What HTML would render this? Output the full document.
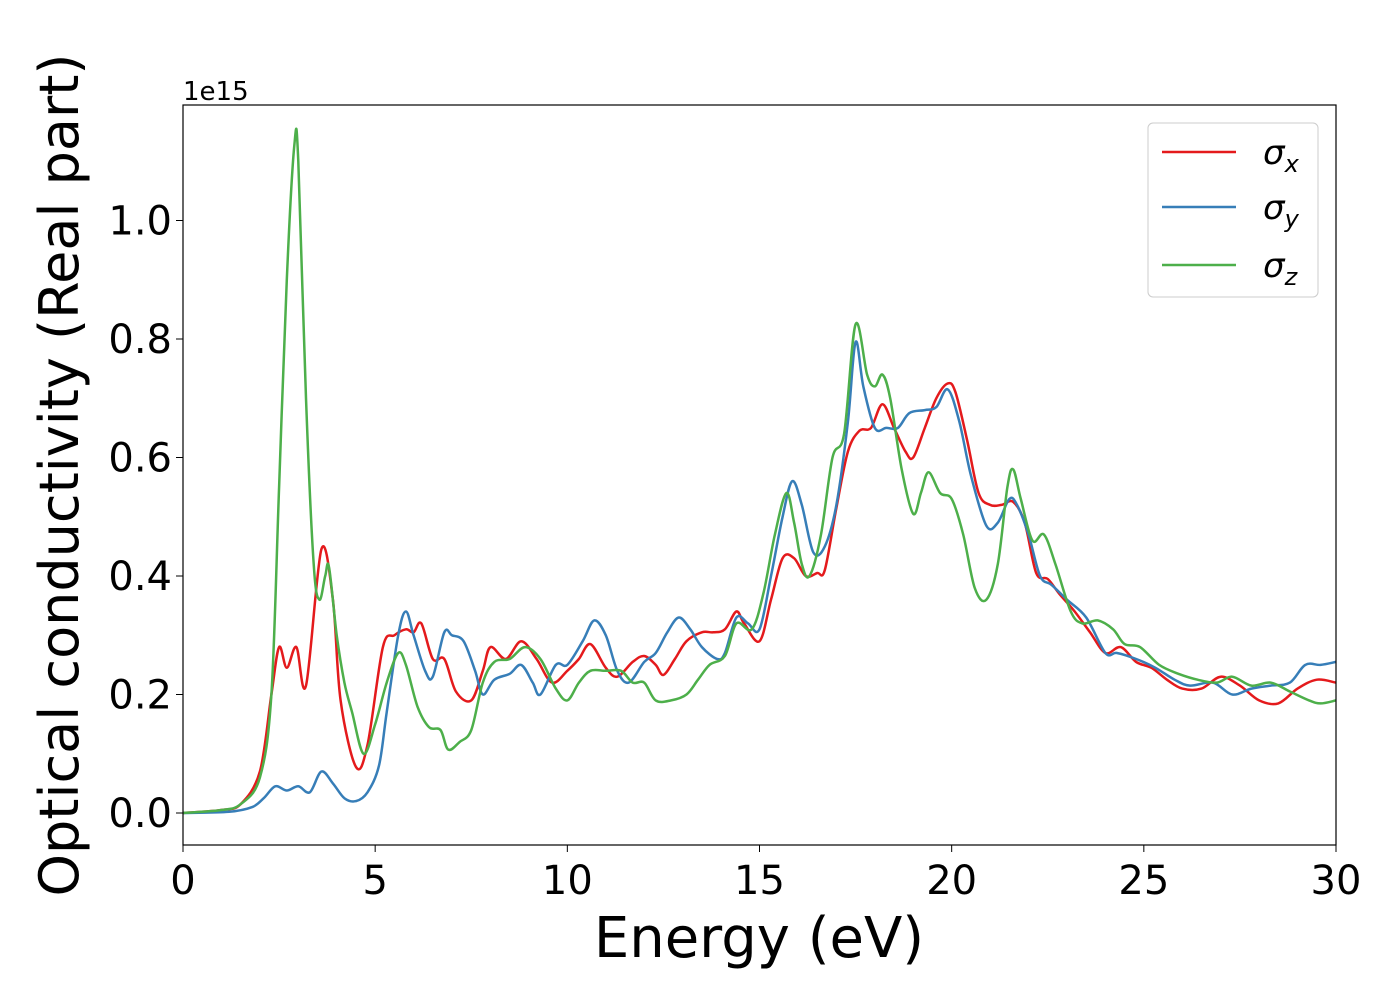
<!DOCTYPE html>
<html><head><meta charset="utf-8"><style>
body{margin:0;background:#fff}
text{font-family:"DejaVu Sans","Liberation Sans",sans-serif}
</style></head><body>
<svg id="chart" width="1400" height="1000" xmlns="http://www.w3.org/2000/svg">
<rect width="1400" height="1000" fill="#fff"/>
<g id="series"></g>
<rect x="183" y="105" width="1153" height="740" fill="none" stroke="#000" stroke-width="1.2"/>
<g id="ticks"></g>
<text x="183" y="100" font-size="26">1e15</text>
<text x="759" y="957" font-size="56" text-anchor="middle">Energy (eV)</text>
<text transform="translate(78,475) rotate(-90)" font-size="54" text-anchor="middle">Optical conductivity (Real part)</text>
<g>
<rect x="1148" y="123" width="170" height="174" rx="5" fill="#fff" stroke="#ccc" stroke-width="1"/>
<line x1="1162" y1="152" x2="1236" y2="152" stroke="#e41a1c" stroke-width="2.5"/>
<text x="1263" y="164" font-size="34" font-style="italic">σ<tspan font-size="24" dy="8">x</tspan></text>
<line x1="1162" y1="207" x2="1236" y2="207" stroke="#377eb8" stroke-width="2.5"/>
<text x="1263" y="219" font-size="34" font-style="italic">σ<tspan font-size="24" dy="8">y</tspan></text>
<line x1="1162" y1="265" x2="1236" y2="265" stroke="#4daf4a" stroke-width="2.5"/>
<text x="1263" y="277" font-size="34" font-style="italic">σ<tspan font-size="24" dy="8">z</tspan></text>
</g>
</svg>
<script>
const xTicks=[0,5,10,15,20,25,30];
const yTicks=[0.0,0.2,0.4,0.6,0.8,1.0];
const yTickLabels=["0.0","0.2","0.4","0.6","0.8","1.0"];
const exE=[0,1,1.5,2,2.3,2.5,2.7,2.95,3.2,3.6,3.9,4.1,4.5,4.8,5.2,5.5,5.8,6,6.2,6.5,6.8,7.1,7.5,7.8,8,8.4,8.8,9.2,9.6,10,10.3,10.6,11,11.3,11.7,12,12.3,12.5,12.8,13.1,13.5,13.8,14.1,14.4,14.6,15,15.3,15.6,15.9,16.2,16.5,16.7,17,17.3,17.6,17.9,18.2,18.5,18.8,19,19.3,19.6,19.9,20.1,20.4,20.7,21,21.3,21.6,21.9,22.2,22.5,22.8,23.2,23.6,24,24.4,24.8,25.2,25.6,26,26.5,27,27.5,28,28.5,29,29.5,30];
const sigmaX=[0,0.005,0.015,0.07,0.2,0.28,0.245,0.28,0.215,0.445,0.36,0.19,0.078,0.115,0.28,0.3,0.31,0.305,0.32,0.26,0.26,0.205,0.19,0.24,0.28,0.26,0.29,0.26,0.22,0.24,0.26,0.285,0.245,0.23,0.255,0.265,0.25,0.233,0.26,0.29,0.305,0.305,0.31,0.34,0.32,0.29,0.36,0.43,0.43,0.4,0.405,0.41,0.515,0.61,0.645,0.65,0.69,0.65,0.61,0.6,0.65,0.7,0.725,0.71,0.63,0.54,0.52,0.52,0.525,0.49,0.405,0.395,0.37,0.34,0.305,0.27,0.28,0.255,0.245,0.225,0.21,0.21,0.23,0.215,0.19,0.185,0.21,0.225,0.22];
const eyE=[0,1.2,1.8,2.1,2.4,2.7,3,3.3,3.6,3.9,4.2,4.5,4.8,5.1,5.3,5.6,5.8,6,6.3,6.5,6.8,7,7.3,7.6,7.8,8.1,8.5,8.8,9.1,9.3,9.7,10,10.4,10.7,11,11.3,11.6,12,12.3,12.6,12.9,13.2,13.5,13.9,14.1,14.4,14.7,15,15.3,15.6,15.85,16.1,16.4,16.7,17,17.3,17.5,17.7,18,18.3,18.6,18.9,19.3,19.6,19.9,20.2,20.5,20.9,21.2,21.5,21.7,22,22.3,22.6,23,23.5,24,24.3,24.8,25.3,25.8,26.2,26.8,27.3,27.8,28.3,28.8,29.2,29.6,30];
const sigmaY=[0,0.002,0.01,0.025,0.045,0.038,0.045,0.035,0.07,0.05,0.025,0.02,0.035,0.08,0.17,0.3,0.34,0.3,0.24,0.23,0.305,0.3,0.29,0.24,0.2,0.225,0.235,0.25,0.22,0.2,0.25,0.25,0.29,0.325,0.3,0.24,0.22,0.255,0.27,0.305,0.33,0.31,0.28,0.26,0.27,0.33,0.32,0.31,0.4,0.5,0.56,0.52,0.44,0.45,0.52,0.66,0.795,0.72,0.65,0.65,0.65,0.675,0.68,0.685,0.715,0.66,0.57,0.485,0.49,0.53,0.52,0.47,0.4,0.385,0.36,0.33,0.27,0.27,0.26,0.245,0.225,0.215,0.22,0.2,0.21,0.215,0.22,0.25,0.25,0.255];
const ezE=[0,1,1.5,2,2.3,2.5,2.7,2.9,3,3.2,3.4,3.55,3.7,3.8,4,4.2,4.4,4.7,5,5.3,5.6,5.8,6.1,6.4,6.7,6.9,7.2,7.5,7.8,8.1,8.5,8.9,9.3,9.7,10,10.3,10.6,11,11.4,11.7,12,12.3,12.7,13.1,13.4,13.7,14.1,14.4,14.8,15.1,15.4,15.7,15.9,16.1,16.3,16.6,16.9,17.2,17.5,17.8,18,18.2,18.4,18.7,19,19.2,19.4,19.7,20,20.3,20.6,20.9,21.2,21.45,21.6,21.8,22.1,22.4,22.7,23.1,23.4,23.8,24.2,24.5,24.9,25.4,25.9,26.4,26.9,27.3,27.8,28.3,28.8,29.3,29.6,30];
const sigmaZ=[0,0.005,0.015,0.06,0.2,0.55,0.9,1.13,1.1,0.7,0.42,0.36,0.4,0.415,0.3,0.22,0.17,0.1,0.15,0.22,0.27,0.25,0.18,0.145,0.14,0.107,0.12,0.14,0.22,0.255,0.26,0.28,0.26,0.21,0.19,0.22,0.24,0.24,0.24,0.22,0.22,0.19,0.19,0.2,0.225,0.25,0.265,0.32,0.31,0.37,0.47,0.54,0.49,0.42,0.4,0.47,0.6,0.64,0.825,0.74,0.72,0.74,0.7,0.58,0.505,0.54,0.575,0.54,0.53,0.47,0.38,0.36,0.42,0.55,0.58,0.53,0.46,0.47,0.42,0.34,0.32,0.325,0.31,0.285,0.28,0.25,0.235,0.225,0.22,0.23,0.215,0.22,0.205,0.19,0.185,0.19];

const X0=183,X1=1336,Y0=813,YS=592.5;
function xs(v){return X0+(v/30)*(X1-X0);}
function ys(v){return Y0-v*YS;}
const NS="http://www.w3.org/2000/svg";
function smoothPath(xsArr,vs){
  const p=xsArr.map((e,i)=>[xs(e),ys(vs[i])]);
  let d="M"+p[0][0].toFixed(1)+","+p[0][1].toFixed(1);
  for(let i=0;i<p.length-1;i++){
    const p0=p[Math.max(0,i-1)],p1=p[i],p2=p[i+1],p3=p[Math.min(p.length-1,i+2)];
    const c1=[p1[0]+(p2[0]-p0[0])/6,p1[1]+(p2[1]-p0[1])/6];
    const c2=[p2[0]-(p3[0]-p1[0])/6,p2[1]-(p3[1]-p1[1])/6];
    d+="C"+c1[0].toFixed(1)+","+c1[1].toFixed(1)+" "+c2[0].toFixed(1)+","+c2[1].toFixed(1)+" "+p2[0].toFixed(1)+","+p2[1].toFixed(1);
  }
  return d;
}
const g=document.getElementById("series");
const clip=document.createElementNS(NS,"clipPath");clip.setAttribute("id","pc");
const cr=document.createElementNS(NS,"rect");cr.setAttribute("x",X0);cr.setAttribute("y",105);cr.setAttribute("width",X1-X0);cr.setAttribute("height",740);
clip.appendChild(cr);g.appendChild(clip);
function addLine(e,v,color,name){
  const path=document.createElementNS(NS,"path");
  path.setAttribute("d",smoothPath(e,v));
  path.setAttribute("fill","none");path.setAttribute("stroke",color);path.setAttribute("stroke-width","2.5");
  path.setAttribute("clip-path","url(#pc)");
  
  
  g.appendChild(path);
}
addLine(exE,sigmaX,"#e41a1c","sigma-x-line");
addLine(eyE,sigmaY,"#377eb8","sigma-y-line");
addLine(ezE,sigmaZ,"#4daf4a","sigma-z-line");
const t=document.getElementById("ticks");
xTicks.forEach(v=>{
  const l=document.createElementNS(NS,"line");
  l.setAttribute("x1",xs(v));l.setAttribute("x2",xs(v));l.setAttribute("y1",845);l.setAttribute("y2",852);l.setAttribute("stroke","#000");
  
  
  t.appendChild(l);
  const tx=document.createElementNS(NS,"text");
  tx.setAttribute("x",xs(v));tx.setAttribute("y",894);tx.setAttribute("font-size","40");tx.setAttribute("text-anchor","middle");
  tx.textContent=String(v);
  
  
  t.appendChild(tx);
});
yTicks.forEach((v,i)=>{
  const l=document.createElementNS(NS,"line");
  l.setAttribute("x1",176);l.setAttribute("x2",183);l.setAttribute("y1",ys(v));l.setAttribute("y2",ys(v));l.setAttribute("stroke","#000");
  
  
  t.appendChild(l);
  const tx=document.createElementNS(NS,"text");
  tx.setAttribute("x",172);tx.setAttribute("y",ys(v)+14);tx.setAttribute("font-size","40");tx.setAttribute("text-anchor","end");
  tx.textContent=yTickLabels[i];
  
  
  t.appendChild(tx);
});
</script>
</body></html>
